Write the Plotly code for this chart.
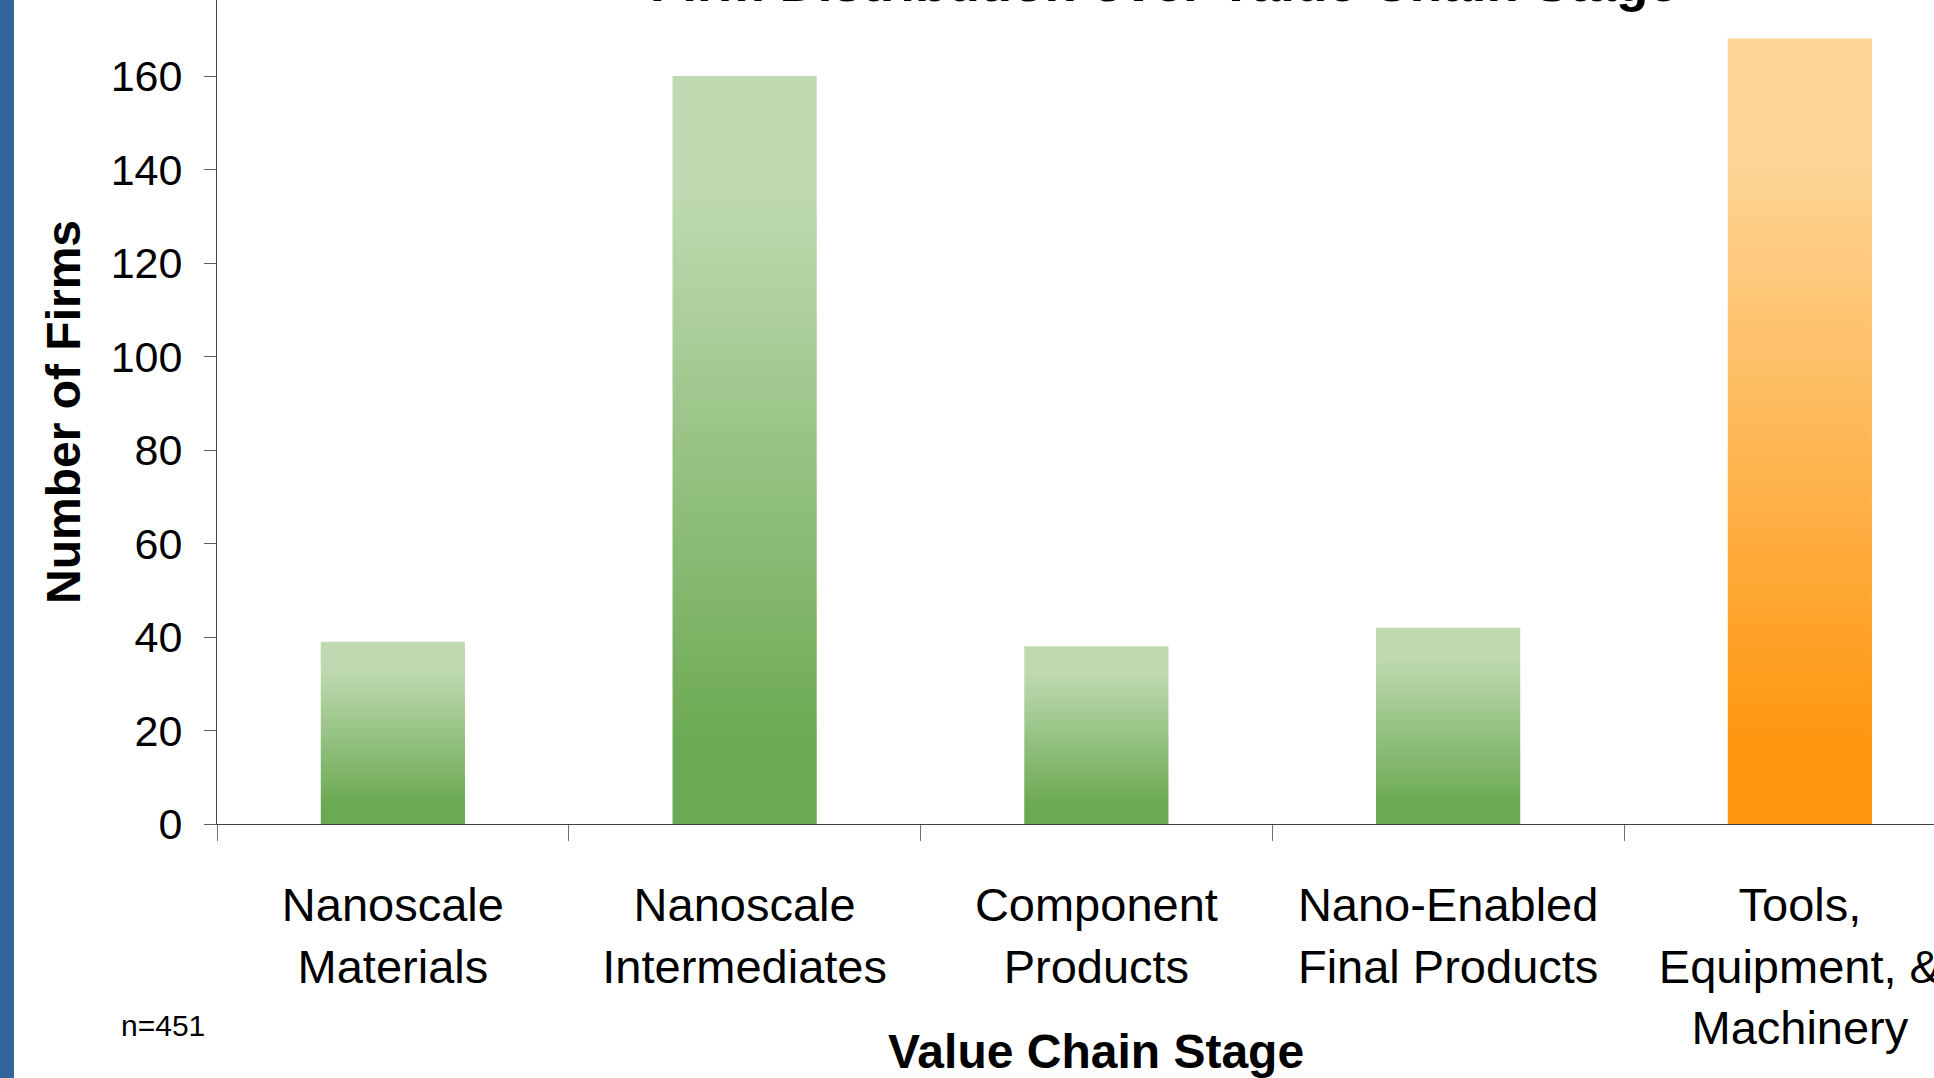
import plotly.graph_objects as go

# Value chain stages and firm counts
stages = [
    "Nanoscale<br>Materials",
    "Nanoscale<br>Intermediates",
    "Component<br>Products",
    "Nano-Enabled<br>Final Products",
    "Tools,<br>Equipment, &<br>Machinery",
]
firms = [39, 160, 38, 42, 168]
y_ticks = [0, 20, 40, 60, 80, 100, 120, 140, 160, 180]
sample_note = "n=451"
chart_title = "Firm Distribution over Value Chain Stage"

GREEN = ["#6BA952", "#BFDAB1"]
ORANGE = ["#FF960F", "#FDD597"]
bar_palettes = [GREEN, GREEN, GREEN, GREEN, ORANGE]
BAR_W = 0.41

W, H = 1934, 1078
M_L, M_B = 217, 254
PX_PER_UNIT = 4.675
plot_h = H - M_B
y_top = plot_h / PX_PER_UNIT
cat_w = 351.75
x_right = -0.5 + (W - M_L) / cat_w

fig = go.Figure()

# Each bar is a filled polygon so it can carry a vertical gradient
for i, (v, pal) in enumerate(zip(firms, bar_palettes)):
    x0, x1 = i - BAR_W / 2, i + BAR_W / 2
    fig.add_trace(go.Scatter(
        x=[x0, x1, x1, x0, x0],
        y=[0, 0, v, v, 0],
        mode="lines",
        line=dict(width=0, color="rgba(0,0,0,0)"),
        fill="toself",
        fillgradient=dict(
            type="vertical",
            colorscale=[[0, pal[0]], [0.1, pal[0]], [0.85, pal[1]], [1, pal[1]]],
        ),
        hoverinfo="skip",
        showlegend=False,
    ))

fig.update_layout(
    width=W, height=H,
    margin=dict(l=M_L, r=0, t=0, b=M_B, pad=0, autoexpand=False),
    paper_bgcolor="white",
    plot_bgcolor="white",
    showlegend=False,
    font=dict(family="Liberation Sans, Arial, sans-serif", color="black"),
)

fig.update_xaxes(
    range=[-0.5, x_right],
    automargin=False,
    tickmode="array",
    tickvals=list(range(len(stages))),
    ticktext=stages,
    ticks="",
    tickfont=dict(family="Liberation Sans Narrow, Arial Narrow, Liberation Sans, sans-serif", size=47),
    ticklabelstandoff=40,
    ticklabeloverflow="allow",
    minor=dict(
        tickmode="array",
        tickvals=[i - 0.5 for i in range(len(stages) + 1)],
        ticks="outside",
        ticklen=16,
        tickwidth=1,
        tickcolor="#707070",
    ),
    showline=True,
    linecolor="#404040",
    linewidth=1,
    showgrid=False,
    zeroline=False,
)

fig.update_yaxes(
    range=[0, y_top],
    automargin=False,
    tickmode="array",
    tickvals=y_ticks,
    ticks="outside",
    ticklen=12,
    tickwidth=1,
    tickcolor="#606060",
    tickfont=dict(size=43),
    ticklabelstandoff=13,
    showline=True,
    linecolor="#404040",
    linewidth=1,
    showgrid=False,
    zeroline=False,
    title=dict(text="Number of Firms", font=dict(size=48, weight="bold"), standoff=14),
)

# Top tick label that sits just beyond the visible range
fig.add_annotation(
    text="180", x=0, xref="paper", xanchor="right", xshift=-31,
    y=180, yref="y", yanchor="middle", showarrow=False,
    font=dict(size=43),
)

fig.add_annotation(
    text="Value Chain Stage", x=2, xref="x", xanchor="center",
    y=(plot_h - 1051) / plot_h, yref="paper", yanchor="middle",
    showarrow=False, font=dict(size=48, weight="bold"),
)

fig.add_annotation(
    text=sample_note, x=0, xref="paper", xshift=163 - M_L, xanchor="center",
    y=(plot_h - 1025) / plot_h, yref="paper", yanchor="middle",
    showarrow=False, font=dict(size=30),
)

fig.add_annotation(
    text=chart_title, x=(1164 - M_L) / (W - M_L), xref="paper", xanchor="center",
    y=1, yref="paper", yanchor="bottom", yshift=-14,
    showarrow=False, font=dict(size=53, weight="bold"),
)

# Blue band along the left edge
fig.add_shape(
    type="rect", xref="paper", xsizemode="pixel", xanchor=0,
    x0=-M_L, x1=-M_L + 14, yref="paper", y0=-0.5, y1=1.5,
    fillcolor="#31659C", line=dict(width=0), layer="above",
)

fig.write_html("out.html")
